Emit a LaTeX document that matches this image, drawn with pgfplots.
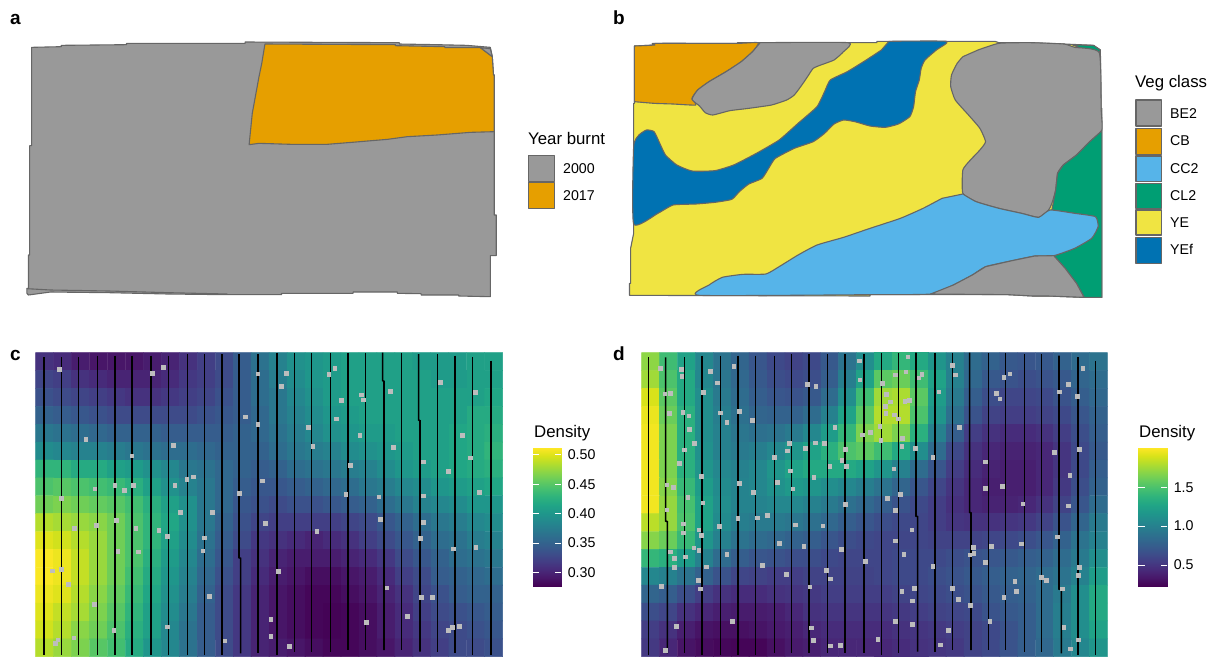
\documentclass[border=0pt]{standalone}
\usepackage{fontspec}
\setmainfont{Liberation Sans}
\usepackage{pgfplots}
\pgfplotsset{compat=1.18}
\definecolor{grey}{HTML}{999999}
\definecolor{edge}{HTML}{666666}
\definecolor{cborange}{HTML}{E69F00}
\definecolor{skyb}{HTML}{56B4E9}
\definecolor{bgreen}{HTML}{009E73}
\definecolor{yel}{HTML}{F0E442}
\definecolor{blu}{HTML}{0072B2}
\definecolor{ptgrey}{HTML}{BDBDBD}
\newcommand{\tit}{\fontsize{16.8}{18}\selectfont}
\newcommand{\lab}{\fontsize{14.2}{16}\selectfont}
\pgfplotsset{
  panel/.style={hide axis, scale only axis, clip=false, anchor=north west, y dir=reverse, enlargelimits=false},
  poly/.style={line width=1.1pt, draw=edge, line join=round},
  curve/.style={poly, smooth, tension=0.3},
  tran/.style={black, line width=1.6pt},
  pts/.style={only marks, mark=square*, mark size=1.85pt, mark options={fill=ptgrey, draw=ptgrey, line width=0pt}},
  cbar/.style={scale only axis, anchor=north west, colormap/viridis, axis on top, axis line style={draw=none}, xtick=\empty,
    ytick pos=both, yticklabel pos=right, tick align=inside, major tick length=6.5pt, tick style={white, line width=0.9pt},
    yticklabel style={font=\lab, xshift=3pt, /pgf/number format/assume math mode=true, /pgf/number format/fixed, /pgf/number format/fixed zerofill},
    enlargelimits=false, xmin=0, xmax=1},
}
\begin{document}
\begin{tikzpicture}
\useasboundingbox (0,0) rectangle (1214pt,-657pt);

% ---------- panel a
\begin{axis}[panel, at={(0pt,0pt)}, width=620pt, height=310pt, xmin=0, xmax=1568, ymin=0, ymax=930]
\addplot[poly, fill=grey] coordinates {(80,142)(155,140)(155,136)(320,134)(320,130)(620,130)(620,126)(1010,128)(1010,132)(1105,134)(1180,136)(1240,142)(1245,170)(1248,225)(1250,225)(1250,645)(1255,645)(1255,767)(1240,767)(1240,890)(1160,888)(1160,885)(1065,885)(1065,881)(1005,880)(1005,876)(893,876)(893,880)(712,880)(712,884)(575,884)(425,882)(275,878)(128,876)(72,885)(68,880)(68,865)(72,865)(72,765)(75,765)(75,437)(80,437)} -- cycle;
\addplot[poly] coordinates {(68,866)(128,870)(275,873)(425,878)(575,882)};
\addplot[poly, fill=cborange] coordinates {(670,132)(1000,134)(1000,137)(1125,140)(1125,143)(1215,143)(1245,170)(1248,225)(1250,225)(1250,395)(1190,397)(1105,405)(1030,410)(980,418)(890,427)(827,433)(737,433)(655,430)(630,434)(638,340)(655,230)(662,190)} -- cycle;
\addplot[poly, fill=grey] coordinates {(1215,143)(1240,146)(1245,170)} -- cycle;
\addplot[poly, fill=grey] coordinates {(1337,466)(1402,466)(1402,545)(1337,545)} -- cycle;
\addplot[poly, fill=cborange] coordinates {(1337,548)(1402,548)(1402,625)(1337,625)} -- cycle;
\end{axis}

% ---------- panel b
\begin{axis}[panel, at={(620pt,0pt)}, width=594pt, height=310pt, xmin=0, xmax=1568, ymin=0, ymax=930]
\addplot[poly, fill=yel] coordinates {(38,138)(92,135)(92,130)(310,130)(310,128)(678,128)(678,124)(990,124)(1000,128)(1082,128)(1172,132)(1250,136)(1268,150)(1270,325)(1272,325)(1272,892)(1222,892)(1130,888)(1090,888)(1025,884)(660,884)(660,888)(25,886)(25,850)(28,850)(28,745)(36,700)(36,310)(38,310)} -- cycle;
\addplot[curve, fill=cborange] coordinates {(38,138)(92,135)(92,130)(310,130)(365,128)(350,155)(320,185)(280,215)(235,245)(205,270)(190,295)(200,315)(140,312)(90,310)(38,305)} -- cycle;
\addplot[curve, fill=grey] coordinates {(370,128)(602,128)(590,155)(565,180)(530,195)(510,205)(495,230)(480,255)(460,285)(440,300)(400,315)(340,325)(290,332)(245,345)(225,338)(210,318)(190,298)(205,270)(235,245)(280,215)(320,185)(350,155)} -- cycle;
\addplot[curve, fill=blu] coordinates {(710,124)(862,124)(835,150)(805,180)(795,205)(790,240)(780,275)(775,320)(765,350)(735,372)(700,382)(660,378)(620,365)(590,360)(565,372)(540,400)(510,425)(460,445)(410,475)(395,500)(375,535)(340,552)(315,575)(295,598)(250,607)(200,612)(140,615)(100,640)(36,672)(36,440)(50,405)(70,390)(90,395)(105,430)(120,465)(150,495)(190,513)(250,512)(300,495)(360,460)(420,420)(470,370)(520,320)(540,275)(555,240)(600,215)(650,180)(690,150)} -- cycle;
\addplot[poly, fill=bgreen] coordinates {(1195,135)(1250,136)(1268,150)(1265,158)(1230,150)} -- cycle;
\addplot[curve, fill=grey] coordinates {(945,150)(1000,130)(1082,128)(1172,132)(1200,142)(1265,158)(1270,325)(1272,390)(1240,425)(1205,465)(1170,495)(1155,520)(1150,570)(1140,610)(1130,632)(1105,652)(1060,640)(1000,625)(940,605)(905,580)(905,510)(925,480)(950,450)(965,425)(950,385)(920,345)(885,300)(873,260)(875,225)(890,190)(905,170)} -- cycle;
\addplot[poly, fill=bgreen] coordinates {(1272,392)(1272,892)(1225,892)(1205,850)(1175,805)(1145,767)(1200,745)(1245,715)(1262,680)(1255,650)(1200,640)(1140,630)(1150,570)(1155,520)(1170,495)(1205,465)(1240,425)} -- cycle;
\addplot[curve, fill=skyb] coordinates {(905,582)(940,605)(1000,625)(1060,640)(1105,652)(1135,630)(1200,640)(1255,650)(1262,680)(1245,715)(1200,745)(1145,767)(1095,768)(1035,782)(965,800)(930,825)(880,855)(820,882)(660,884)(210,886)(235,855)(270,832)(325,823)(385,822)(420,800)(470,765)(520,735)(590,712)(660,685)(740,655)(800,625)(850,595)} -- cycle;
\addplot[poly, fill=grey] coordinates {(820,882)(880,855)(930,825)(965,800)(1035,782)(1095,768)(1145,767)(1175,805)(1205,850)(1225,892)(1130,888)(1090,888)(1025,884)} -- cycle;
\addplot[poly, fill=grey] coordinates {(1362,300)(1430,300)(1430,378)(1362,378)} -- cycle;
\addplot[poly, fill=cborange] coordinates {(1362,385)(1430,385)(1430,463)(1362,463)} -- cycle;
\addplot[poly, fill=skyb] coordinates {(1362,468)(1430,468)(1430,545)(1362,545)} -- cycle;
\addplot[poly, fill=bgreen] coordinates {(1362,550)(1430,550)(1430,625)(1362,625)} -- cycle;
\addplot[poly, fill=yel] coordinates {(1362,630)(1430,630)(1430,705)(1362,705)} -- cycle;
\addplot[poly, fill=blu] coordinates {(1362,713)(1430,713)(1430,790)(1362,790)} -- cycle;
\end{axis}

% ---------- panel c
\begin{axis}[panel, at={(0pt,-340pt)}, width=520pt, height=317pt, xmin=0, xmax=1560, ymin=0, ymax=951,
  colormap/viridis, point meta min=0.277, point meta max=0.511]
\addplot[matrix plot*, mesh/cols=26, point meta=explicit, draw=none] table[header=false, row sep=\\,
  x expr={107+53.88*(\coordindex+0.5-26*floor((\coordindex+0.5)/26))}, y expr={38+53.65*(floor((\coordindex+0.5)/26)+0.5)}, meta index=0] {
.31\\.305\\.295\\.29\\.29\\.29\\.295\\.30\\.31\\.32\\.33\\.345\\.365\\.38\\.395\\.40\\.405\\.41\\.41\\.41\\.41\\.405\\.405\\.405\\.41\\.41\\
.325\\.32\\.31\\.305\\.30\\.30\\.30\\.305\\.315\\.32\\.33\\.345\\.36\\.375\\.39\\.40\\.405\\.41\\.41\\.41\\.41\\.41\\.405\\.405\\.41\\.41\\
.335\\.33\\.325\\.32\\.315\\.31\\.31\\.315\\.32\\.325\\.335\\.345\\.36\\.37\\.385\\.395\\.405\\.41\\.41\\.41\\.41\\.41\\.41\\.41\\.41\\.415\\
.35\\.345\\.34\\.335\\.33\\.33\\.33\\.33\\.33\\.335\\.34\\.345\\.355\\.37\\.38\\.39\\.40\\.405\\.41\\.41\\.41\\.41\\.41\\.41\\.42\\.42\\
.37\\.365\\.36\\.355\\.35\\.35\\.35\\.345\\.345\\.345\\.345\\.35\\.355\\.365\\.375\\.385\\.395\\.40\\.405\\.405\\.41\\.41\\.41\\.415\\.42\\.425\\
.39\\.385\\.38\\.38\\.375\\.37\\.365\\.36\\.36\\.355\\.35\\.35\\.35\\.36\\.37\\.375\\.38\\.39\\.395\\.40\\.405\\.41\\.41\\.415\\.42\\.43\\
.43\\.43\\.42\\.42\\.41\\.405\\.395\\.385\\.37\\.365\\.355\\.35\\.345\\.35\\.36\\.365\\.37\\.375\\.38\\.39\\.40\\.405\\.41\\.415\\.42\\.425\\
.445\\.45\\.445\\.44\\.435\\.425\\.41\\.395\\.38\\.37\\.355\\.345\\.34\\.34\\.345\\.35\\.355\\.36\\.37\\.375\\.385\\.39\\.40\\.405\\.41\\.415\\
.46\\.465\\.46\\.455\\.45\\.44\\.425\\.41\\.395\\.37\\.355\\.34\\.335\\.33\\.335\\.335\\.34\\.345\\.35\\.36\\.37\\.38\\.385\\.39\\.40\\.40\\
.485\\.48\\.475\\.47\\.46\\.445\\.43\\.415\\.395\\.37\\.35\\.335\\.325\\.32\\.32\\.32\\.32\\.325\\.33\\.34\\.35\\.36\\.37\\.375\\.385\\.39\\
.50\\.495\\.485\\.475\\.46\\.445\\.43\\.41\\.39\\.365\\.345\\.33\\.315\\.31\\.305\\.30\\.305\\.31\\.32\\.33\\.34\\.35\\.36\\.365\\.375\\.38\\
.51\\.505\\.49\\.475\\.46\\.445\\.425\\.405\\.385\\.36\\.34\\.32\\.31\\.30\\.295\\.295\\.295\\.30\\.305\\.315\\.33\\.34\\.35\\.36\\.365\\.37\\
.51\\.505\\.49\\.475\\.46\\.44\\.42\\.40\\.38\\.355\\.335\\.32\\.305\\.295\\.29\\.285\\.285\\.29\\.295\\.305\\.32\\.33\\.345\\.35\\.355\\.36\\
.505\\.50\\.485\\.47\\.455\\.435\\.415\\.395\\.375\\.35\\.33\\.315\\.30\\.29\\.285\\.28\\.28\\.285\\.29\\.30\\.31\\.325\\.335\\.345\\.35\\.35\\
.50\\.49\\.48\\.465\\.45\\.43\\.41\\.39\\.37\\.345\\.33\\.315\\.30\\.29\\.285\\.28\\.278\\.28\\.285\\.295\\.305\\.32\\.33\\.335\\.34\\.345\\
.495\\.485\\.47\\.46\\.445\\.425\\.41\\.385\\.365\\.345\\.33\\.315\\.30\\.29\\.285\\.28\\.278\\.28\\.285\\.295\\.305\\.315\\.325\\.33\\.335\\.34\\
.485\\.475\\.465\\.45\\.44\\.42\\.40\\.385\\.365\\.345\\.33\\.315\\.30\\.295\\.29\\.285\\.28\\.28\\.285\\.29\\.30\\.31\\.32\\.33\\.33\\.335\\
};
\addplot[tran] coordinates {(132,52)(132,945)};
\addplot[tran] coordinates {(184,52)(184,945)};
\addplot[tran] coordinates {(236,52)(236,945)};
\addplot[tran] coordinates {(293,47)(293,945)};
\addplot[tran] coordinates {(345,47)(345,945)};
\addplot[tran] coordinates {(396,47)(396,945)};
\addplot[tran] coordinates {(453,47)(453,945)};
\addplot[tran] coordinates {(505,47)(505,945)};
\addplot[tran] coordinates {(562,42)(562,945)};
\addplot[tran] coordinates {(614,42)(614,945)};
\addplot[tran] coordinates {(666,42)(666,945)};
\addplot[tran] coordinates {(717,42)(717,653)(722,655)(722,940)};
\addplot[tran] coordinates {(774,42)(774,940)};
\addplot[tran] coordinates {(831,38)(831,945)};
\addplot[tran] coordinates {(883,38)(883,935)};
\addplot[tran] coordinates {(935,38)(935,935)};
\addplot[tran] coordinates {(992,38)(992,935)};
\addplot[tran] coordinates {(1044,38)(1044,930)};
\addplot[tran] coordinates {(1096,38)(1096,930)};
\addplot[tran] coordinates {(1148,38)(1148,122)(1152,124)(1152,930)};
\addplot[tran] coordinates {(1204,38)(1204,930)};
\addplot[tran] coordinates {(1256,42)(1256,240)(1260,242)(1260,935)};
\addplot[tran] coordinates {(1313,42)(1313,935)};
\addplot[tran] coordinates {(1365,47)(1365,940)};
\addplot[tran] coordinates {(1417,52)(1417,945)};
\addplot[tran] coordinates {(1473,62)(1473,945)};
\addplot[pts] coordinates {(178,88)(457,100)(490,82)(774,102)(859,101)(987,104)(1005,85)(845,140)(1085,165)(1091,180)(1024,182)(1171,154)(1322,127)(1426,158)(736,231)(774,253)(925,262)(1010,237)(1080,286)(1388,286)(1180,323)(939,320)(258,299)(520,317)(396,348)(1270,366)(1412,354)(1052,376)(1346,395)(561,418)(581,411)(525,436)(345,437)(400,437)(373,452)(285,447)(788,423)(185,476)(719,460)(1038,464)(1137,471)(1270,468)(1439,457)(541,517)(637,518)(797,550)(1142,538)(1270,547)(350,541)(289,557)(224,565)(408,566)(477,572)(503,589)(614,594)(951,575)(1261,596)(1360,627)(1428,622)(354,635)(415,636)(609,633)(158,693)(185,688)(835,695)(206,733)(1161,744)(1265,772)(1297,773)(628,769)(283,793)(813,838)(1222,830)(1100,847)(1357,863)(1378,860)(1345,872)(503,861)(342,871)(174,900)(167,911)(222,894)(675,903)(813,889)(869,919)};
\end{axis}

% ---------- panel d
\begin{axis}[panel, at={(620pt,-340pt)}, width=500pt, height=317pt, xmin=0, xmax=1500, ymin=0, ymax=951,
  colormap/viridis, point meta min=0.23, point meta max=2.0]
\addplot[matrix plot*, mesh/cols=26, point meta=explicit, draw=none] table[header=false, row sep=\\,
  x expr={65+53.73*(\coordindex+0.5-26*floor((\coordindex+0.5)/26))}, y expr={38+53.65*(floor((\coordindex+0.5)/26)+0.5)}, meta index=0] {
1.7\\1.45\\1.25\\1.05\\.9\\.8\\.7\\.62\\.58\\.62\\.72\\.9\\1.1\\1.3\\1.4\\1.3\\1.15\\1.0\\.85\\.78\\.72\\.7\\.72\\.78\\.85\\.9\\
1.75\\1.5\\1.3\\1.05\\.92\\.82\\.72\\.65\\.62\\.65\\.75\\.98\\1.25\\1.55\\1.6\\1.45\\1.25\\1.0\\.82\\.72\\.68\\.65\\.68\\.72\\.8\\.85\\
1.9\\1.55\\1.3\\1.1\\.95\\.85\\.75\\.7\\.68\\.72\\.85\\1.1\\1.45\\1.75\\1.78\\1.55\\1.2\\.95\\.75\\.65\\.6\\.6\\.62\\.68\\.75\\.82\\
1.95\\1.6\\1.35\\1.1\\.98\\.88\\.8\\.78\\.78\\.85\\1.0\\1.25\\1.55\\1.8\\1.8\\1.5\\1.15\\.88\\.68\\.58\\.55\\.55\\.58\\.62\\.7\\.78\\
1.97\\1.65\\1.35\\1.1\\1.0\\.92\\.88\\.9\\.95\\1.05\\1.2\\1.4\\1.65\\1.75\\1.65\\1.35\\1.0\\.75\\.55\\.48\\.45\\.45\\.48\\.55\\.65\\.75\\
1.97\\1.65\\1.35\\1.12\\1.0\\.95\\.98\\1.05\\1.15\\1.25\\1.35\\1.5\\1.55\\1.45\\1.3\\1.1\\.85\\.62\\.48\\.42\\.4\\.4\\.42\\.5\\.62\\.72\\
1.97\\1.65\\1.35\\1.15\\1.05\\1.0\\1.05\\1.15\\1.25\\1.3\\1.3\\1.3\\1.25\\1.15\\1.0\\.85\\.7\\.55\\.45\\.4\\.38\\.38\\.42\\.5\\.62\\.75\\
1.97\\1.68\\1.42\\1.2\\1.08\\1.02\\1.05\\1.12\\1.18\\1.15\\1.1\\1.05\\.98\\.9\\.8\\.7\\.6\\.5\\.42\\.38\\.38\\.38\\.42\\.52\\.65\\.78\\
1.97\\1.72\\1.48\\1.25\\1.1\\1.02\\1.02\\1.05\\1.05\\1.0\\.95\\.88\\.82\\.75\\.68\\.62\\.55\\.47\\.42\\.4\\.4\\.42\\.48\\.58\\.7\\.85\\
1.82\\1.72\\1.5\\1.25\\1.08\\.98\\.95\\.95\\.92\\.88\\.82\\.75\\.7\\.65\\.62\\.6\\.55\\.5\\.48\\.48\\.5\\.52\\.58\\.68\\.8\\.95\\
1.68\\1.6\\1.42\\1.15\\1.0\\.9\\.85\\.82\\.78\\.75\\.7\\.65\\.62\\.6\\.6\\.6\\.58\\.58\\.58\\.6\\.62\\.65\\.7\\.78\\.9\\1.0\\
1.4\\1.35\\1.2\\1.0\\.85\\.75\\.7\\.68\\.65\\.65\\.62\\.6\\.6\\.6\\.62\\.62\\.62\\.65\\.68\\.7\\.72\\.75\\.78\\.85\\.95\\1.1\\
1.05\\1.0\\.9\\.78\\.68\\.6\\.58\\.55\\.55\\.58\\.58\\.58\\.58\\.6\\.62\\.62\\.65\\.68\\.72\\.75\\.78\\.8\\.85\\.9\\1.0\\1.2\\
.8\\.75\\.65\\.55\\.48\\.45\\.45\\.48\\.5\\.52\\.55\\.55\\.55\\.55\\.58\\.6\\.62\\.65\\.68\\.72\\.75\\.78\\.85\\.95\\1.1\\1.3\\
.65\\.6\\.48\\.42\\.38\\.36\\.36\\.38\\.42\\.48\\.5\\.5\\.5\\.5\\.52\\.55\\.58\\.6\\.62\\.68\\.72\\.75\\.85\\.98\\1.1\\1.3\\
.55\\.48\\.38\\.32\\.3\\.3\\.32\\.35\\.38\\.42\\.45\\.45\\.45\\.45\\.48\\.5\\.52\\.55\\.58\\.62\\.68\\.75\\.85\\.98\\1.1\\1.25\\
.52\\.42\\.32\\.28\\.26\\.25\\.25\\.3\\.35\\.38\\.42\\.42\\.42\\.42\\.45\\.48\\.5\\.52\\.58\\.62\\.68\\.75\\.82\\.95\\1.05\\1.15\\
};
\addplot[tran] coordinates {(85,52)(85,945)};
\addplot[tran] coordinates {(137,52)(137,543)(142,545)(142,940)};
\addplot[tran] coordinates {(194,52)(194,940)};
\addplot[tran] coordinates {(246,47)(246,945)};
\addplot[tran] coordinates {(302,47)(302,945)};
\addplot[tran] coordinates {(354,47)(354,945)};
\addplot[tran] coordinates {(406,47)(406,945)};
\addplot[tran] coordinates {(463,47)(463,940)};
\addplot[tran] coordinates {(515,42)(515,940)};
\addplot[tran] coordinates {(567,42)(567,940)};
\addplot[tran] coordinates {(623,42)(623,940)};
\addplot[tran] coordinates {(675,42)(675,940)};
\addplot[tran] coordinates {(732,42)(732,940)};
\addplot[tran] coordinates {(784,38)(784,945)};
\addplot[tran] coordinates {(836,38)(836,940)};
\addplot[tran] coordinates {(888,38)(888,528)(893,530)(893,935)};
\addplot[tran] coordinates {(945,38)(945,935)};
\addplot[tran] coordinates {(997,38)(997,930)};
\addplot[tran] coordinates {(1049,38)(1049,517)(1053,519)(1053,930)};
\addplot[tran] coordinates {(1105,38)(1105,930)};
\addplot[tran] coordinates {(1157,38)(1157,930)};
\addplot[tran] coordinates {(1214,42)(1214,935)};
\addplot[tran] coordinates {(1265,42)(1265,935)};
\addplot[tran] coordinates {(1317,47)(1317,747)(1324,749)(1324,940)};
\addplot[tran] coordinates {(1374,52)(1374,945)};
\addplot[tran] coordinates {(1427,62)(1427,945)};
\addplot[pts] coordinates {(718,63)(864,51)(997,77)(1006,105)(1389,85)(122,85)(184,89)(186,110)(272,94)(342,80)(292,129)(858,96)(826,105)(906,103)(897,114)(720,120)(1170,102)(1152,113)(562,134)(588,139)(788,131)(135,162)(151,161)(250,157)(800,163)(812,186)(957,156)(1129,160)(1140,177)(1318,156)(1345,134)(1372,170)(855,185)(868,182)(796,200)(148,220)(189,218)(207,228)(302,219)(359,214)(321,248)(397,242)(798,221)(823,225)(836,237)(208,269)(645,262)(780,260)(1018,262)(751,277)(727,285)(783,301)(848,295)(224,310)(508,310)(586,309)(614,310)(193,330)(503,333)(556,326)(676,329)(846,320)(887,325)(1378,328)(1304,338)(178,370)(463,352)(666,361)(939,352)(1096,366)(630,380)(679,380)(512,393)(822,387)(245,410)(582,413)(1350,407)(141,435)(161,443)(359,430)(473,428)(401,457)(519,447)(1096,446)(1148,440)(204,473)(249,489)(677,494)(803,475)(841,464)(1209,492)(1346,498)(141,510)(826,512)(354,535)(413,534)(443,527)(190,552)(298,560)(527,555)(609,558)(876,570)(237,570)(191,579)(244,587)(1313,591)(222,624)(237,632)(478,610)(552,619)(665,629)(826,603)(1204,612)(1114,620)(1060,622)(151,636)(321,644)(852,644)(1062,640)(1050,645)(163,655)(197,651)(736,665)(1096,668)(163,683)(260,681)(427,677)(939,679)(1378,683)(619,692)(500,703)(1376,707)(632,717)(236,722)(1265,713)(1280,722)(1185,725)(125,740)(241,747)(570,741)(883,746)(997,745)(1327,747)(846,754)(1189,755)(878,783)(1015,778)(1152,773)(1052,797)(826,845)(878,853)(1110,844)(170,859)(338,845)(575,864)(985,871)(1332,862)(137,931)(580,902)(774,899)(1375,900)(632,918)(661,916)(962,915)(1351,927)};
\end{axis}

% ---------- colour bars
\begin{axis}[cbar, at={(532.7pt,-448.3pt)}, width=28.6pt, height=137.7pt, ymin=0.277, ymax=0.511,
  ytick={0.30,0.35,0.40,0.45,0.50}, yticklabel style={/pgf/number format/precision=2}]
\addplot[surf, shader=interp, mesh/rows=2, point meta=y] coordinates {(0,0.277)(1,0.277)(0,0.511)(1,0.511)};
\end{axis}
\begin{axis}[cbar, at={(1138.3pt,-448.3pt)}, width=29pt, height=137.7pt, ymin=0.23, ymax=2.0,
  ytick={0.5,1.0,1.5}, yticklabel style={/pgf/number format/precision=1}]
\addplot[surf, shader=interp, mesh/rows=2, point meta=y] coordinates {(0,0.23)(1,0.23)(0,2.0)(1,2.0)};
\end{axis}

% ---------- text
\node[anchor=base west, inner sep=0pt, font=\fontsize{19}{19}\selectfont\bfseries] at (10pt,-24pt) {a};
\node[anchor=base west, inner sep=0pt, font=\fontsize{19}{19}\selectfont\bfseries] at (613pt,-24pt) {b};
\node[anchor=base west, inner sep=0pt, font=\fontsize{19}{19}\selectfont\bfseries] at (10pt,-360pt) {c};
\node[anchor=base west, inner sep=0pt, font=\fontsize{19}{19}\selectfont\bfseries] at (613pt,-360pt) {d};
\node[anchor=west, inner sep=0pt, font=\tit] at (528pt,-138pt) {Year burnt};
\node[anchor=west, inner sep=0pt, font=\lab] at (563pt,-168.5pt) {2000};
\node[anchor=west, inner sep=0pt, font=\lab] at (563pt,-195.5pt) {2017};
\node[anchor=west, inner sep=0pt, font=\tit] at (1135pt,-83pt) {Veg class};
\node[anchor=west, inner sep=0pt, font=\lab] at (1170pt,-113.5pt) {BE2};
\node[anchor=west, inner sep=0pt, font=\lab] at (1170pt,-140.5pt) {CB};
\node[anchor=west, inner sep=0pt, font=\lab] at (1170pt,-168.5pt) {CC2};
\node[anchor=west, inner sep=0pt, font=\lab] at (1170pt,-195.5pt) {CL2};
\node[anchor=west, inner sep=0pt, font=\lab] at (1170pt,-222.5pt) {YE};
\node[anchor=west, inner sep=0pt, font=\lab] at (1170pt,-249.5pt) {YEf};
\node[anchor=west, inner sep=0pt, font=\tit] at (534pt,-433pt) {Density};
\node[anchor=west, inner sep=0pt, font=\tit] at (1139pt,-433pt) {Density};
\end{tikzpicture}
\end{document}
